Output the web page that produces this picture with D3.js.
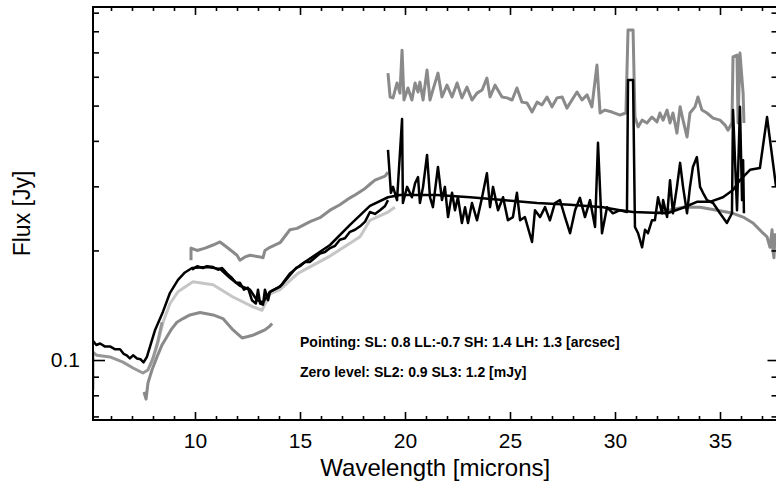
<!DOCTYPE html>
<html>
<head>
<meta charset="utf-8">
<script src="https://cdn.jsdelivr.net/npm/d3@7"></script>
<style>
  html, body { margin: 0; padding: 0; background: #fff; }
  svg { display: block; }
  text { font-family: "Liberation Sans", Arial, sans-serif; fill: #000; }
</style>
</head>
<body>
<svg id="chart" width="776" height="484"></svg>
<script>
// wavelength [microns], flux [Jy]

// low resolution (SL + LL) spectrum, black
const lowResBlack = [
  [5.14, 0.113], [5.3, 0.110], [5.48, 0.111], [5.7, 0.109], [5.95, 0.109],
  [6.2, 0.107], [6.43, 0.107], [6.6, 0.104], [6.75, 0.103], [6.9, 0.101],
  [7.05, 0.103], [7.24, 0.101], [7.4, 0.1005], [7.55, 0.0985], [7.71, 0.102],
  [8.1, 0.121], [8.48, 0.136], [8.81, 0.153], [9.19, 0.166], [9.52, 0.174],
  [9.86, 0.179], [10.57, 0.180], [11.19, 0.178], [11.67, 0.168], [12.14, 0.160],
  [12.62, 0.156], [12.95, 0.146], [13.24, 0.144], [13.57, 0.154], [14.05, 0.159],
  [14.52, 0.173], [15.0, 0.182], [16.43, 0.207], [17.38, 0.235], [18.33, 0.265],
  [19.19, 0.280], [19.76, 0.284], [21.52, 0.284], [23.1, 0.280], [24.67, 0.275],
  [26.29, 0.270], [27.86, 0.267], [29.43, 0.263], [30.24, 0.258], [30.86, 0.255],
  [32.48, 0.253], [33.24, 0.262], [33.9, 0.272], [34.52, 0.272], [35.14, 0.280],
  [35.62, 0.293], [35.95, 0.312], [36.43, 0.333], [36.9, 0.337], [37.24, 0.465],
  [37.67, 0.299]
];

// short-high spectrum, black
const shBlack = [
  [9.86, 0.177], [10.1, 0.181], [10.38, 0.179], [10.57, 0.181], [10.86, 0.180],
  [11.1, 0.177], [11.29, 0.179], [11.52, 0.173], [11.76, 0.168], [11.95, 0.163],
  [12.14, 0.163], [12.33, 0.156], [12.52, 0.158], [12.71, 0.146], [12.9, 0.143],
  [13.0, 0.156], [13.1, 0.143], [13.24, 0.142], [13.33, 0.156], [13.48, 0.146],
  [13.57, 0.154], [13.76, 0.156], [13.95, 0.158], [14.14, 0.161], [14.33, 0.166],
  [14.52, 0.171], [14.81, 0.179], [15.0, 0.181], [15.24, 0.186], [15.48, 0.186],
  [15.71, 0.191], [15.95, 0.196], [16.19, 0.198], [16.43, 0.203], [16.67, 0.206],
  [16.9, 0.214], [17.14, 0.216], [17.38, 0.225], [17.62, 0.228], [17.86, 0.233],
  [18.1, 0.240], [18.33, 0.255], [18.57, 0.252], [18.81, 0.258], [19.05, 0.265],
  [19.19, 0.275]
];

// long-high spectrum, black
const lhBlack = [
  [19.19, 0.378], [19.33, 0.288], [19.43, 0.299], [19.62, 0.275], [19.86, 0.459],
  [19.9, 0.270], [20.1, 0.299], [20.33, 0.280], [20.48, 0.306], [20.62, 0.318],
  [20.71, 0.270], [20.86, 0.299], [21.05, 0.366], [21.19, 0.280], [21.33, 0.263],
  [21.57, 0.339], [21.76, 0.275], [21.9, 0.299], [22.05, 0.247], [22.24, 0.288],
  [22.38, 0.258], [22.52, 0.280], [22.71, 0.238], [22.86, 0.263], [23.0, 0.238],
  [23.19, 0.270], [23.43, 0.242], [23.67, 0.280], [23.9, 0.326], [24.05, 0.263],
  [24.19, 0.299], [24.43, 0.258], [24.67, 0.280], [24.9, 0.242], [25.14, 0.247],
  [25.33, 0.288], [25.48, 0.242], [25.71, 0.247], [26.05, 0.211], [26.19, 0.258],
  [26.43, 0.247], [26.67, 0.263], [26.9, 0.242], [27.14, 0.270], [27.38, 0.275],
  [27.62, 0.247], [27.86, 0.223], [28.1, 0.258], [28.33, 0.279], [28.57, 0.247],
  [28.81, 0.275], [29.05, 0.232], [29.19, 0.395], [29.38, 0.223], [29.62, 0.263],
  [29.9, 0.253], [30.24, 0.258], [30.57, 0.255], [30.62, 0.588], [30.86, 0.588],
  [30.95, 0.232], [31.1, 0.223], [31.29, 0.204], [31.43, 0.228], [31.57, 0.223],
  [31.76, 0.242], [31.9, 0.242], [32.05, 0.280], [32.24, 0.253], [32.29, 0.275],
  [32.48, 0.247], [32.62, 0.312], [32.76, 0.253], [32.95, 0.299], [33.1, 0.348],
  [33.24, 0.299], [33.43, 0.253], [33.57, 0.299], [33.71, 0.339], [33.9, 0.361],
  [34.05, 0.299], [34.19, 0.288], [34.38, 0.275], [34.67, 0.270], [35.0, 0.253],
  [35.33, 0.238], [35.57, 0.253], [35.62, 0.486], [35.81, 0.258], [35.95, 0.496],
  [36.05, 0.275], [36.1, 0.354], [36.14, 0.253]
];

// long-high spectrum before scaling, dark grey
const lhGrey = [
  [19.19, 0.614], [19.29, 0.528], [19.43, 0.525], [19.62, 0.577], [19.76, 0.541],
  [19.86, 0.710], [19.95, 0.518], [20.14, 0.559], [20.33, 0.518], [20.48, 0.577],
  [20.62, 0.545], [20.71, 0.580], [20.86, 0.518], [21.05, 0.626], [21.19, 0.518],
  [21.33, 0.552], [21.57, 0.614], [21.76, 0.528], [22.0, 0.569], [22.24, 0.528],
  [22.48, 0.577], [22.71, 0.525], [22.95, 0.562], [23.19, 0.518], [23.43, 0.541],
  [23.67, 0.552], [23.9, 0.595], [24.05, 0.528], [24.29, 0.569], [24.62, 0.528],
  [24.86, 0.525], [25.1, 0.518], [25.33, 0.559], [25.57, 0.511], [25.81, 0.508],
  [26.05, 0.480], [26.29, 0.511], [26.52, 0.502], [26.76, 0.528], [27.0, 0.496],
  [27.24, 0.525], [27.48, 0.528], [27.71, 0.492], [27.95, 0.518], [28.19, 0.545],
  [28.43, 0.518], [28.67, 0.535], [28.9, 0.496], [29.14, 0.646], [29.29, 0.477],
  [29.52, 0.486], [29.86, 0.480], [30.24, 0.471], [30.52, 0.477], [30.62, 0.806],
  [30.86, 0.806], [30.95, 0.465], [31.1, 0.437], [31.29, 0.456], [31.52, 0.448],
  [31.76, 0.465], [32.0, 0.451], [32.14, 0.477], [32.29, 0.456], [32.48, 0.486],
  [32.62, 0.448], [32.76, 0.477], [32.95, 0.420], [33.1, 0.496], [33.24, 0.456],
  [33.43, 0.410], [33.57, 0.477], [33.81, 0.496], [33.95, 0.528], [34.14, 0.486],
  [34.38, 0.477], [34.67, 0.462], [35.0, 0.456], [35.24, 0.442], [35.38, 0.428],
  [35.57, 0.448], [35.62, 0.680], [35.81, 0.688], [35.86, 0.448], [35.95, 0.697],
  [36.1, 0.541], [36.14, 0.448]
];

// short-high spectrum before scaling, dark grey
const shGrey = [
  [9.81, 0.188], [9.81, 0.203], [10.1, 0.200], [10.48, 0.203], [10.86, 0.207],
  [11.19, 0.211], [11.52, 0.204], [12.0, 0.194], [12.14, 0.188], [12.38, 0.192],
  [12.62, 0.194], [13.1, 0.192], [13.24, 0.191], [13.33, 0.200], [13.57, 0.204],
  [14.05, 0.210], [14.52, 0.228], [14.86, 0.230], [15.48, 0.240], [15.95, 0.246],
  [16.43, 0.258], [16.9, 0.267], [17.38, 0.279], [17.62, 0.284], [18.1, 0.296],
  [18.33, 0.304], [18.57, 0.312], [19.05, 0.320], [19.19, 0.328]
];

// SL2 segment, grey
const sl2Grey = [
  [5.14, 0.0827], [5.14, 0.105], [5.33, 0.103], [5.95, 0.102], [6.57, 0.0987],
  [7.05, 0.0951], [7.52, 0.0921], [7.76, 0.0939], [8.0, 0.101], [8.24, 0.113],
  [8.43, 0.127]
];

// SL1 segment before scaling, grey
const sl1Grey = [
  [7.57, 0.0817], [7.67, 0.0781], [7.71, 0.0817], [7.76, 0.0865], [7.95, 0.0939],
  [8.19, 0.102], [8.43, 0.110], [8.67, 0.116], [8.9, 0.122], [9.14, 0.127],
  [9.43, 0.130], [9.76, 0.133], [10.24, 0.135], [10.86, 0.133], [11.33, 0.130],
  [11.81, 0.121], [12.24, 0.115], [12.52, 0.116], [12.76, 0.117], [13.33, 0.121],
  [13.57, 0.124], [13.67, 0.126]
];

// SL + LL before zero level correction, light grey
const lowResLight = [
  [7.86, 0.0963], [8.19, 0.109], [8.48, 0.127], [8.81, 0.143], [9.19, 0.154],
  [9.9, 0.164], [10.86, 0.161], [11.81, 0.149], [12.76, 0.140], [13.19, 0.137],
  [13.57, 0.152], [14.05, 0.156], [14.9, 0.173], [16.43, 0.193], [17.86, 0.218],
  [18.33, 0.242], [19.19, 0.255], [19.52, 0.263]
];

// LL tail, grey
const llGrey = [
  [31.9, 0.253], [33.24, 0.263], [34.05, 0.263], [34.86, 0.258], [35.62, 0.253],
  [36.1, 0.247], [36.57, 0.238], [37.05, 0.223], [37.24, 0.218], [37.38, 0.204],
  [37.48, 0.228], [37.52, 0.200], [37.57, 0.191], [37.62, 0.223]
];

const xMajor = [10, 15, 20, 25, 30, 35];
const xMinor = d3.range(6, 38).filter(v => v % 5 !== 0);
const yMajor = [0.1];
const yMinor = [0.07, 0.08, 0.09, 0.2, 0.3, 0.4, 0.5, 0.6, 0.7, 0.8, 0.9];

const notes = [
  "Pointing: SL: 0.8 LL:-0.7 SH: 1.4 LH: 1.3 [arcsec]",
  "Zero level: SL2: 0.9 SL3: 1.2 [mJy]"
];

const box = { left: 93, right: 777.5, top: 7, bottom: 420 };
const darkGrey = "#8a8a8a";
const lightGrey = "#c6c6c6";

const svg = d3.select("#chart");

const x = d3.scaleLinear().domain([5.143, 37.738]).range([box.left, box.right]);
// 0.1 Jy sits at y=360, one decade is 364 px
const y = d3.scaleLog().domain([0.06843, 0.9328]).range([box.bottom, box.top]);

svg.append("clipPath").attr("id", "plot-clip")
  .append("rect")
  .attr("x", box.left).attr("y", box.top)
  .attr("width", box.right - box.left).attr("height", box.bottom - box.top);

const line = d3.line().x(d => x(d[0])).y(d => y(d[1]));

const plot = svg.append("g").attr("clip-path", "url(#plot-clip)");

const series = [
  { data: lowResLight, color: lightGrey, width: 3 },
  { data: sl2Grey, color: "#979797", width: 3 },
  { data: sl1Grey, color: darkGrey, width: 3 },
  { data: shGrey, color: darkGrey, width: 3 },
  { data: lhGrey, color: darkGrey, width: 3 },
  { data: llGrey, color: darkGrey, width: 3 },
  { data: lowResBlack, color: "#000", width: 2.5 },
  { data: shBlack, color: "#000", width: 2.5 },
  { data: lhBlack, color: "#000", width: 2.5 }
];

plot.selectAll("path.spec")
  .data(series)
  .enter()
  .append("path")
  .attr("class", "spec")
  .attr("fill", "none")
  .attr("stroke", d => d.color)
  .attr("stroke-width", d => d.width)
  .attr("stroke-linejoin", "round")
  .attr("d", d => line(d.data));

// axes, ticks pointing into the box
function styleAxis(g) {
  g.select(".domain").remove();
  g.selectAll(".tick line").attr("stroke", "#000").attr("stroke-width", 1.6);
  g.selectAll(".tick text")
    .style("font-family", "'Liberation Sans', Arial, sans-serif")
    .style("font-size", "21px")
    .attr("fill", "#000");
}

svg.append("g").attr("transform", `translate(0,${box.bottom})`)
  .call(d3.axisBottom(x).tickValues(xMinor).tickSize(-4).tickFormat(""))
  .call(styleAxis);
svg.append("g").attr("transform", `translate(0,${box.bottom})`)
  .call(d3.axisBottom(x).tickValues(xMajor).tickSize(-8).tickPadding(13).tickFormat(d3.format("d")))
  .call(styleAxis);
svg.append("g").attr("transform", `translate(0,${box.top})`)
  .call(d3.axisTop(x).tickValues(xMinor).tickSize(-4).tickFormat(""))
  .call(styleAxis);
svg.append("g").attr("transform", `translate(0,${box.top})`)
  .call(d3.axisTop(x).tickValues(xMajor).tickSize(-8).tickFormat(""))
  .call(styleAxis);

svg.append("g").attr("transform", `translate(${box.left},0)`)
  .call(d3.axisLeft(y).tickValues(yMinor).tickSize(-6).tickFormat(""))
  .call(styleAxis);
svg.append("g").attr("transform", `translate(${box.left},0)`)
  .call(d3.axisLeft(y).tickValues(yMajor).tickSize(-12).tickPadding(13).tickFormat(d3.format(".1f")))
  .call(styleAxis);
svg.append("g").attr("transform", `translate(${box.right},0)`)
  .call(d3.axisRight(y).tickValues(yMinor).tickSize(-6).tickFormat(""))
  .call(styleAxis);
svg.append("g").attr("transform", `translate(${box.right},0)`)
  .call(d3.axisRight(y).tickValues(yMajor).tickSize(-10).tickFormat(""))
  .call(styleAxis);

// frame
svg.append("path")
  .attr("fill", "none")
  .attr("stroke", "#000")
  .attr("stroke-width", 2)
  .attr("d", `M${box.left},${box.top}H${box.right}V${box.bottom}H${box.left}Z`);

// axis titles
svg.append("text")
  .attr("x", (box.left + box.right) / 2)
  .attr("y", 476)
  .attr("text-anchor", "middle")
  .style("font-size", "24px")
  .text("Wavelength [microns]");

svg.append("text")
  .attr("transform", `translate(30,${(box.top + box.bottom) / 2}) rotate(-90)`)
  .attr("text-anchor", "middle")
  .style("font-size", "23px")
  .text("Flux [Jy]");

// annotations
svg.selectAll("text.note")
  .data(notes)
  .enter()
  .append("text")
  .attr("class", "note")
  .attr("x", 300)
  .attr("y", (d, i) => 347 + i * 30)
  .style("font-size", "14px")
  .style("font-weight", "bold")
  .text(d => d);
</script>
</body>
</html>
